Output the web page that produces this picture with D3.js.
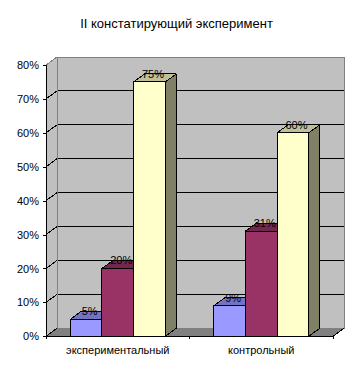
<!DOCTYPE html>
<html><head><meta charset="utf-8">
<script src="https://cdn.jsdelivr.net/npm/d3@7/dist/d3.min.js"></script>
<style>html,body{margin:0;padding:0;background:#fff}svg{display:block;shape-rendering:crispEdges}text{font-family:"Liberation Sans",Arial,sans-serif;font-size:11px;fill:#000}</style>
</head><body><div id="chart"></div>
<script>
const title = "II констатирующий эксперимент";
const categories = ["экспериментальный", "контрольный"];
const seriesNames = ["s1", "s2", "s3"];
const series1 = [5, 9];
const series2 = [20, 31];
const series3 = [75, 60];
const yTicks = [0, 10, 20, 30, 40, 50, 60, 70, 80];
const frontColors = ["#9999ff", "#993366", "#ffffcc"];
const topColors = ["#7373bf", "#732650", "#bfbf99"];
const sideColors = ["#4d4d80", "#4d1a33", "#808066"];

const W = 351, H = 372, dx = 11, dy = 8;
const svg = d3.select("#chart").append("svg").attr("width", W).attr("height", H);
const x = d3.scaleBand().domain(categories).range([46, 333]);
const xs = d3.scaleBand().domain(seriesNames).range([0, x.bandwidth()]).paddingOuter(0.766).paddingInner(0);
const y = d3.scaleLinear().domain([0, 80]).range([336.3, 65]);
const [x0, x1] = x.range();
const [y0, y1] = y.range();
const pts = a => a.map(p => p.join(",")).join(" ");

svg.append("text").attr("x", 176.5).attr("y", 28).attr("text-anchor", "middle").style("font-size", "13px").text(title);

// walls and floor
svg.append("polygon").attr("points", pts([[x0+dx,y1-dy],[x1+dx,y1-dy],[x1+dx,y0-dy],[x0+dx,y0-dy]])).attr("fill", "#c0c0c0").attr("stroke", "#808080");
svg.append("polygon").attr("points", pts([[x0,y1],[x0+dx,y1-dy],[x0+dx,y0-dy],[x0,y0]])).attr("fill", "#c0c0c0");
svg.append("polygon").attr("points", pts([[x0,y0],[x0+dx,y0-dy],[x1+dx,y0-dy],[x1,y0]])).attr("fill", "#808080");

// gridlines
yTicks.filter(t => t > 0 && t < 80).forEach(t => {
  svg.append("line").attr("x1", x0+dx).attr("x2", x1+dx).attr("y1", y(t)-dy).attr("y2", y(t)-dy).attr("stroke", "#000");
});
yTicks.forEach(t => {
  svg.append("line").attr("x1", x0).attr("x2", x0+dx).attr("y1", y(t)).attr("y2", y(t)-dy).attr("stroke", t === 80 ? "#808080" : "#000");
});
svg.append("line").attr("x1", x0+dx).attr("x2", x0+dx).attr("y1", y1-dy).attr("y2", y0-dy).attr("stroke", "#808080");
svg.append("line").attr("x1", x1).attr("x2", x1+dx).attr("y1", y0).attr("y2", y0-dy).attr("stroke", "#000");

// axes
const yAxis = d3.axisLeft(y).tickValues(yTicks).tickFormat(d => d + "%").tickSize(3).tickPadding(4);
const ga = svg.append("g").attr("transform", `translate(${x0},0)`).call(yAxis);
ga.select(".domain").attr("stroke", "#000");
ga.selectAll("line").attr("stroke", "#000");
ga.selectAll("text").style("font-size", "11px").style("font-family", '"Liberation Sans",Arial,sans-serif');

const gb = svg.append("g");
gb.append("line").attr("x1", x0).attr("x2", x1).attr("y1", y0).attr("y2", y0).attr("stroke", "#000");
[x0, x0 + x.bandwidth(), x1].forEach(v => gb.append("line").attr("x1", v).attr("x2", v).attr("y1", y0).attr("y2", y0+3).attr("stroke", "#000"));
categories.forEach(c => gb.append("text").attr("x", x(c) + x.bandwidth()/2).attr("y", 354).attr("text-anchor", "middle").text(c));

// bars
const values = [series1, series2, series3];
const labels = [];
categories.forEach((c, ci) => {
  seriesNames.forEach((s, si) => {
    const v = values[si][ci];
    const l = x(c) + xs(s), r = l + xs.bandwidth(), t = y(v);
    const g = svg.append("g").attr("stroke", "#000").attr("stroke-linejoin", "round");
    g.append("polygon").attr("points", pts([[r,t],[r+dx,t-dy],[r+dx,y0-dy],[r,y0]])).attr("fill", sideColors[si]);
    g.append("polygon").attr("points", pts([[l,t],[l+dx,t-dy],[r+dx,t-dy],[r,t]])).attr("fill", topColors[si]);
    g.append("rect").attr("x", l).attr("y", t).attr("width", xs.bandwidth()).attr("height", y0 - t).attr("fill", frontColors[si]);
    labels.push({x: (l + r)/2 + dx/2 - 2, y: t - dy + 4, text: v + "%"});
  });
});
labels.forEach(d => svg.append("text").attr("x", d.x).attr("y", d.y).attr("text-anchor", "middle").text(d.text));
</script></body></html>
